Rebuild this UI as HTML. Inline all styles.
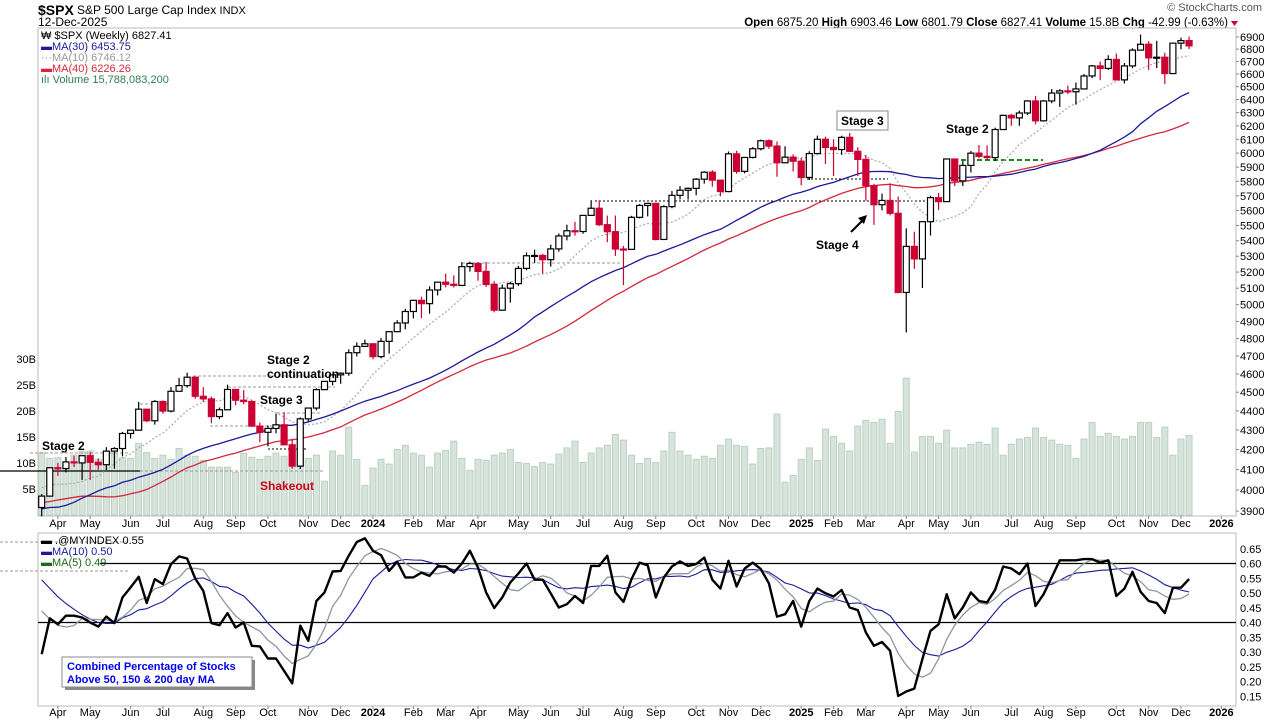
<!DOCTYPE html>
<html><head><meta charset="utf-8"><style>
html,body{margin:0;padding:0;background:#fff;}
svg{display:block;font-family:"Liberation Sans",sans-serif;}
</style></head><body>
<svg id="c" width="1280" height="720" xmlns="http://www.w3.org/2000/svg">
<rect width="1280" height="720" fill="#fff"/>
<g>
<text x="38" y="15" font-size="14" font-weight="bold">$SPX</text>
<text x="77" y="14" font-size="12">S&amp;P 500 Large Cap Index <tspan font-size="11">INDX</tspan></text>
<text x="38" y="26" font-size="12">12-Dec-2025</text>
<text x="1262" y="11" font-size="11" fill="#555" text-anchor="end">© StockCharts.com</text>
<text x="1228" y="26" font-size="11.5" text-anchor="end"><tspan font-weight="bold">Open</tspan> 6875.20 <tspan font-weight="bold">High</tspan> 6903.46 <tspan font-weight="bold">Low</tspan> 6801.79 <tspan font-weight="bold">Close</tspan> 6827.41 <tspan font-weight="bold">Volume</tspan> 15.8B <tspan font-weight="bold">Chg</tspan> -42.99 (-0.63%)</text>
<path d="M1231,21 L1238,21 L1234.5,26 Z" fill="#c03"/>
</g>
<rect x="38" y="28" width="1198" height="488" fill="none" stroke="#bbb"/>
<rect x="38" y="533" width="1198" height="173" fill="none" stroke="#bbb"/>
<g id="vol"></g>
<g id="refl"></g>
<g id="mas"></g>
<g id="candles"></g>
<g id="axes"></g>
<g id="ind"></g>
<g font-size="11">
<text x="41" y="39">₩ $SPX (Weekly) 6827.41</text>
<text x="41" y="50" fill="#1a1a9a">▬MA(30) 6453.75</text>
<text x="41" y="61" fill="#999">···MA(10) 6746.12</text>
<text x="41" y="72" fill="#d4283c">▬MA(40) 6226.26</text>
<text x="41" y="83" fill="#2e7d4f">ılı Volume 15,788,083,200</text>
</g>
<g font-size="11">
<text x="41" y="544">▬ .@MYINDEX 0.55</text>
<text x="41" y="555" fill="#1a1a9a">▬MA(10) 0.50</text>
<text x="41" y="566" fill="#1a6a1a">▬MA(5) 0.49</text>
</g>
<g font-size="12" font-weight="bold">
<text x="42" y="450">Stage 2</text>
<text x="267" y="364">Stage 2</text>
<text x="267" y="378">continuation</text>
<text x="260" y="404">Stage 3</text>
<text x="260" y="490" fill="#d0021b">Shakeout</text>
<rect x="837" y="111" width="51" height="19" fill="#fff" stroke="#888"/>
<text x="841" y="125">Stage 3</text>
<text x="816" y="249">Stage 4</text>
<path d="M851,232 L864,219" stroke="#000" stroke-width="2"/>
<path d="M867,215 L858,218 L864,224 Z" fill="#000"/>
<text x="946" y="133">Stage 2</text>
</g>
<g>
<rect x="65" y="660" width="190" height="30" fill="#888"/>
<rect x="62" y="657" width="190" height="30" fill="#fff" stroke="#888"/>
<text x="67" y="670" font-size="11" font-weight="bold" fill="#0000ee">Combined Percentage of Stocks</text>
<text x="67" y="683" font-size="11" font-weight="bold" fill="#0000ee">Above 50, 150 &amp; 200 day MA</text>
</g>
</svg>
<script>
const priorCloses=[3912,3825,3899,3863,3962,4130,4145,4280,4228,4058,3924,4067,3873,3693,3586,3640,3583,3753,3901,3771,3993,3965,4026,4072,3934,3852,3845,3840,3895,3999,3973,4071,4136,4090,4079,3970,4046,3862,3917];
const closes=[3971,4109,4105,4138,4133,4169,4136,4124,4192,4205,4282,4299,4409,4348,4450,4399,4505,4536,4582,4478,4464,4370,4406,4515,4457,4450,4320,4288,4308,4327,4224,4117,4358,4415,4514,4559,4595,4604,4719,4755,4770,
4697,4784,4840,4891,4959,5026,5006,5089,5137,5124,5117,5234,5254,5204,5123,4967,5100,5128,5223,5303,5305,5278,5347,5431,5465,5460,5567,5615,5505,5459,5346,5344,5554,5634,5648,5408,5626,5703,5738,5751,5815,5864,5808,5729,5995,5870,5969,6032,6090,6051,5931,5971,
5942,5827,5997,6101,6041,6026,6115,6013,5955,5770,5639,5668,5581,5074,5363,5283,5525,5687,5660,5958,5803,5912,6000,5977,5968,6173,6279,6260,6297,6389,6238,6389,6450,6467,6460,6482,6584,6664,6644,6716,6553,6664,6792,6840,6729,6734,6603,6849,6870,6827];
const highs=[3981,4110,4133,4163,4169,4170,4187,4155,4212,4212,4290,4300,4448,4409,4458,4456,4528,4578,4607,4584,4527,4476,4418,4541,4514,4511,4457,4339,4324,4385,4393,4255,4366,4418,4521,4560,4596,4609,4738,4778,4794,
4754,4803,4842,4907,4975,5030,5048,5111,5140,5190,5179,5262,5265,5263,5263,5143,5123,5139,5239,5325,5342,5315,5375,5447,5505,5524,5570,5670,5669,5566,5566,5366,5564,5643,5651,5651,5636,5733,5767,5757,5823,5871,5878,5810,6012,6017,5972,6044,6099,6100,6085,6050,
5991,5965,6014,6128,6120,6101,6127,6147,6043,5986,5783,5715,5786,5695,5481,5459,5528,5700,5720,5959,5945,5944,6016,6059,6057,6187,6284,6291,6315,6395,6428,6395,6481,6480,6508,6532,6600,6672,6699,6750,6764,6687,6807,6920,6865,6869,6770,6853,6895,6903];
const lows=[3875,3970,4069,4086,4113,4049,4049,4099,4098,4104,4166,4256,4297,4341,4328,4385,4392,4505,4525,4464,4448,4335,4356,4403,4430,4435,4316,4238,4216,4283,4223,4104,4103,4339,4403,4511,4537,4546,4590,4698,4751,
4682,4687,4714,4845,4854,4918,4920,4946,5056,5105,5104,5114,5203,5146,5107,4954,4963,5012,5114,5211,5257,5191,5234,5329,5402,5433,5445,5570,5497,5390,5302,5119,5363,5546,5560,5402,5406,5615,5675,5674,5703,5784,5762,5697,5724,5853,5856,5963,6020,6031,5832,5927,
5869,5773,5809,6009,5923,5837,5987,6008,5837,5666,5504,5601,5567,5069,4835,5220,5101,5434,5603,5750,5767,5767,5862,5963,5952,5943,6169,6201,6201,6281,6212,6232,6371,6343,6442,6360,6485,6566,6551,6632,6550,6524,6646,6790,6631,6646,6521,6599,6799,6801];
const volumes=[12,10.9,11,10,11.5,12.3,12.3,10.7,11.5,11.9,11,10.9,13.8,12,10.9,11.5,10.7,12.8,11.5,11.3,10.5,9.2,9.2,9.2,8.2,11.9,11.1,10.7,11.3,11.9,11.3,12.8,11.5,10.9,11.5,6.5,12.3,11.5,16.9,10.7,5.7,9.0,10.7,9.8,12.6,13.4,11.9,11.5,9.2,11.9,12.4,14.2,10.9,8.6,10.7,10.5,11.5,11.9,12.6,10.1,9.9,9.3,10.1,9.8,11.7,12.9,14.2,10.1,11.9,12.9,13.4,
15.5,14.4,11.5,9.9,10.9,10.1,12.3,15.9,12.3,11.5,10.7,11.3,10.9,13.4,14.6,13.4,13.2,9.8,12.8,12.9,19.4,6.3,7.6,10.7,12.9,10.5,16.5,15.1,13.8,12.3,17.1,18.2,17.8,18.4,13.8,19.9,26.3,12.1,15.1,15.1,13.8,16.3,12.9,12.9,13.6,14.0,13.6,16.7,11.5,13.6,14.6,14.9,16.7,14.9,14.4,13.6,13.4,10.9,14.6,17.8,15.1,15.7,15.1,14.6,15.1,17.8,17.8,14.9,16.9,11.5,14.6,15.3];
const priorIndex=[0.70,0.68,0.65,0.62,0.60,0.55,0.50,0.45,0.40];
const indexValues=[0.293,0.414,0.394,0.423,0.423,0.417,0.400,0.386,0.420,0.398,0.485,0.519,0.555,0.466,0.547,0.530,0.598,0.624,0.617,0.549,0.507,0.398,0.391,0.432,0.383,0.400,0.321,0.319,0.278,0.278,0.236,0.194,0.389,0.338,0.473,0.502,0.573,0.575,0.626,0.673,0.685,0.643,0.628,0.575,0.606,0.553,0.553,0.569,0.558,0.590,0.590,0.569,0.600,0.643,0.586,0.502,0.449,0.485,0.536,0.566,0.600,0.545,0.545,0.499,0.451,0.462,0.490,0.466,0.592,0.592,0.626,
0.502,0.470,0.547,0.603,0.594,0.485,0.553,0.590,0.607,0.592,0.598,0.620,0.545,0.515,0.609,0.522,0.583,0.603,0.581,0.533,0.420,0.428,0.473,0.386,0.473,0.515,0.499,0.488,0.510,0.451,0.442,0.366,0.321,0.334,0.304,0.151,0.166,0.176,0.276,0.372,0.394,0.496,0.414,0.451,0.502,0.473,0.468,0.511,0.590,0.583,0.564,0.600,0.456,0.496,0.553,0.611,0.611,0.611,0.615,0.615,0.603,0.611,0.490,0.515,0.572,0.504,0.473,0.466,0.432,0.518,0.518,0.547];
const priceTicks=[3900,4000,4100,4200,4300,4400,4500,4600,4700,4800,4900,5000,5100,5200,5300,5400,5500,5600,5700,5800,5900,6000,6100,6200,6300,6400,6500,6600,6700,6800,6900];
const volumeTicks=[5,10,15,20,25,30];
const indexTicks=[0.15,0.20,0.25,0.30,0.35,0.40,0.45,0.50,0.55,0.60,0.65];
const monthNames=["Jan","Feb","Mar","Apr","May","Jun","Jul","Aug","Sep","Oct","Nov","Dec"];

const NS="http://www.w3.org/2000/svg";
const X0=41.7,DX=8.08;
function xOf(i){return X0+i*DX;}
function yPrice(p){return 37+831*Math.log(6900/p);}
function yVol(v){return 515-v*5.2;}
function yInd(v){return 563.5+(0.60-v)*295;}
function el(tag,attrs,parent){const e=document.createElementNS(NS,tag);for(const k in attrs)e.setAttribute(k,attrs[k]);parent.appendChild(e);return e;}

const N=closes.length;
const opens=closes.map((c,i)=>i===0?priorCloses[priorCloses.length-1]:closes[i-1]);

const gv=document.getElementById('vol');
volumes.forEach((v,i)=>{
  const r=el('rect',{x:xOf(i)-3,y:yVol(v),width:6,height:515-yVol(v),fill:'#d6e4dc',stroke:'#bcd0c4','stroke-width':1},gv);
  
  
});

const gr=document.getElementById('refl');
const refs=[[0,140,471,'#000','none',1.2],[140,323,471,'#999','3,2',1],[30,130,453,'#999','3,2',1],[193,335,376,'#999','3,2',1],[228,335,387,'#999','3,2',1],[140,170,404,'#999','3,2',1],[277,320,413,'#999','3,2',1],[210,277,426,'#999','3,2',1],[268,307,449,'#000','2,2',1],[462,620,263,'#999','3,2',1],[595,930,201,'#000','2,2',1],[807,888,179,'#000','2,2',1],[0,130,542,'#999','3,2',1],[0,130,571,'#999','3,2',1],[945,1043,160,'#1a8a1a','5,3',2]];
refs.forEach(r=>{
  const l=el('line',{x1:r[0],x2:r[1],y1:r[2],y2:r[2],stroke:r[3],'stroke-dasharray':r[4],'stroke-width':r[5]},gr);
  
  
});

const all=priorCloses.concat(closes);
const P=priorCloses.length;
function maPts(n){const pts=[];for(let i=0;i<N;i++){const k=i+P;let s=0,c=0;for(let j=Math.max(0,k-n+1);j<=k;j++){s+=all[j];c++;}pts.push(xOf(i).toFixed(1)+','+yPrice(s/c).toFixed(1));}return pts.join(' ');}
const gm=document.getElementById('mas');
const ma10=el('polyline',{points:maPts(10),fill:'none',stroke:'#aaa','stroke-width':1.2,'stroke-dasharray':'2,2'},gm);


const ma40=el('polyline',{points:maPts(40),fill:'none',stroke:'#d4283c','stroke-width':1.3},gm);


const ma30=el('polyline',{points:maPts(30),fill:'none',stroke:'#1a1a9a','stroke-width':1.3},gm);



const gc=document.getElementById('candles');
for(let i=0;i<N;i++){
  const o=opens[i],c=closes[i],prev=i===0?priorCloses[P-1]:closes[i-1];
  const col=c<prev?'#cc0033':'#000';
  const x=xOf(i);
  const w=el('line',{x1:x,x2:x,y1:yPrice(highs[i]),y2:yPrice(lows[i]),stroke:col,'stroke-width':1.2},gc);
  
  
  const top=yPrice(Math.max(o,c)),bot=yPrice(Math.min(o,c));
  const b=el('rect',{x:x-3,y:top,width:6,height:Math.max(1,bot-top),fill:c<o?col:'#fff',stroke:col,'stroke-width':1.2},gc);
  
  
}

const ga=document.getElementById('axes');
priceTicks.forEach(p=>{
  const t=el('text',{x:1240,y:yPrice(p)+4,'font-size':11},ga);t.textContent=p;
  
  
  el('line',{x1:1236,x2:1239,y1:yPrice(p),y2:yPrice(p),stroke:'#888'},ga);
});
volumeTicks.forEach(v=>{
  const t=el('text',{x:36,y:yVol(v)+4,'font-size':11,'text-anchor':'end'},ga);t.textContent=v+'B';
  
  
});
indexTicks.forEach(v=>{
  const t=el('text',{x:1240,y:yInd(v)+4,'font-size':11},ga);t.textContent=v.toFixed(2);
  
  
});
// bar i ends on Friday; the week's Monday determines month label placement
const d0=new Date(2023,2,20);
let lastM=-1;
for(let i=0;i<N+4;i++){
  const d=new Date(d0.getTime()+i*7*86400000);const m=d.getMonth();
  if(m!==lastM){
    if(i>0){
      const lab=m===0?String(d.getFullYear()):monthNames[m];
      [527,716].forEach(yy=>{
        const t=el('text',{x:xOf(i),y:yy,'font-size':11,'text-anchor':'middle','font-weight':m===0?'bold':'normal'},ga);t.textContent=lab;
        
        
      });
      el('line',{x1:xOf(i),x2:xOf(i),y1:516,y2:519,stroke:'#888'},ga);
      el('line',{x1:xOf(i),x2:xOf(i),y1:706,y2:709,stroke:'#888'},ga);
    }
    lastM=m;
  }
}

const gi=document.getElementById('ind');
const l60=el('line',{x1:100,x2:1236,y1:yInd(0.60),y2:yInd(0.60),stroke:'#000','stroke-width':1.2},gi);


const l40=el('line',{x1:38,x2:1236,y1:yInd(0.40),y2:yInd(0.40),stroke:'#000','stroke-width':1.2},gi);


const allI=priorIndex.concat(indexValues),PI=priorIndex.length;
function indMa(n){const pts=[];for(let i=0;i<indexValues.length;i++){const k=i+PI;let s=0,c=0;for(let j=Math.max(0,k-n+1);j<=k;j++){s+=allI[j];c++;}pts.push(xOf(i).toFixed(1)+','+yInd(s/c).toFixed(1));}return pts.join(' ');}
const im10=el('polyline',{points:indMa(10),fill:'none',stroke:'#1a1a9a','stroke-width':1.1},gi);


const im5=el('polyline',{points:indMa(5),fill:'none',stroke:'#8f969e','stroke-width':1.3},gi);


const il=el('polyline',{points:indexValues.map((v,i)=>xOf(i).toFixed(1)+','+yInd(v).toFixed(1)).join(' '),fill:'none',stroke:'#000','stroke-width':2.4,'stroke-linejoin':'round'},gi);


</script>
</body></html>
